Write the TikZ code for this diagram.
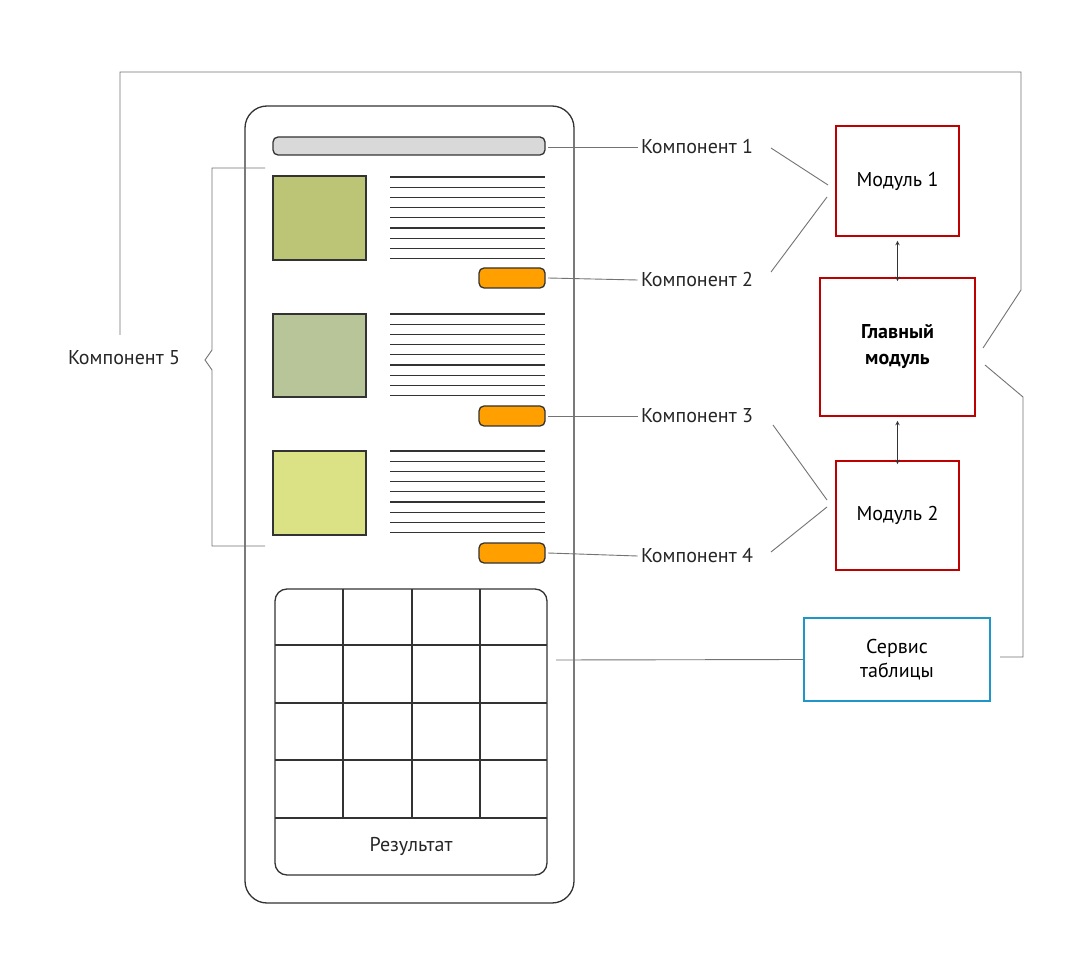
\documentclass[tikz,border=0pt]{standalone}
\usepackage{fontspec}
\setmainfont{PT Sans}
\begin{document}
\begin{tikzpicture}[x=1pt,y=-1pt,
 ol/.style={draw=black!80,line width=1.3pt},
 lead/.style={draw=black!55,line width=0.9pt},
 lbl/.style={font=\fontsize{20}{24}\selectfont,text=black!85},
 mod/.style={draw=red!75!black,line width=1.6pt,font=\fontsize{20}{24}\selectfont,align=center},
 txl/.style={draw=black!80,line width=1.2pt},
 btn/.style={ol,fill=orange!75!yellow,rounded corners=5pt}]
\useasboundingbox (0,0) rectangle (1080,976);
\fill[white] (0,0) rectangle (1080,976);
% phone
\draw[ol,rounded corners=22pt] (245,106) rectangle (574,903);
\draw[ol,fill=black!15,rounded corners=5pt] (273,137) rectangle (545,155);
\coordinate (bar) at (548,147);
\draw[ol,fill={rgb,255:red,188;green,196;blue,117}] (273,176) rectangle (366,260);
\draw[ol,fill={rgb,255:red,184;green,197;blue,153}] (273,314) rectangle (366,397);
\draw[ol,fill={rgb,255:red,219;green,226;blue,133}] (273,451) rectangle (366,535);
\foreach \y in {177,314,451}{
 \foreach \i in {0,...,8}{\draw[txl] (390,\y+\i*10.2) -- (545,\y+\i*10.2);}}
\draw[btn] (479,268) rectangle (545,288);
\draw[btn] (479,406) rectangle (545,426);
\draw[btn] (479,543) rectangle (545,563);
\coordinate (b1) at (548,278);\coordinate (b2) at (548,416);\coordinate (b3) at (548,553);
% grid
\draw[ol,rounded corners=12pt] (275,589) rectangle (547,875);
\foreach \x in {343,412,480}{\draw[ol] (\x,589) -- (\x,818);}
\foreach \y in {645,703,760,818}{\draw[ol] (275,\y) -- (547,\y);}
\node[lbl] (res) at (411,846) {Результат};
\coordinate (grid) at (556,660);
% labels
\node[lbl] (k1) at (697,147) {Компонент 1};
\node[lbl] (k2) at (697,280) {Компонент 2};
\node[lbl] (k3) at (697,416) {Компонент 3};
\node[lbl] (k4) at (697,556) {Компонент 4};
\node[lbl] (k5) at (124,358) {Компонент 5};
\draw[lead] (bar) -- (k1.west);
\draw[lead] (b1) -- (k2.west);
\draw[lead] (b2) -- (k3.west);
\draw[lead] (b3) -- (k4.west);
% brace
\draw[lead] (265,168) -- (212,168) -- (212,350) -- (205,360) -- (212,370) -- (212,546) -- (265,546);
% modules
\node[mod,minimum width=123pt,minimum height=110pt] (m1) at (897.5,181) {Модуль 1};
\node[mod,minimum width=155pt,minimum height=138pt,font=\fontsize{20}{26}\selectfont\bfseries] (mm) at (897.5,347) {Главный\\модуль};
\node[mod,minimum width=123pt,minimum height=109pt] (m2) at (897.5,515.5) {Модуль 2};
\node[mod,draw={rgb,255:red,30;green,150;blue,200},minimum width=186pt,minimum height=83pt] (sv) at (897,659.5) {Сервис\\таблицы};
\draw[lead] (771,148) -- (828,185);
\draw[lead] (771,272) -- (827,197);
\draw[lead] (773,425) -- (827,500);
\draw[lead] (771,552) -- (827,507);
\draw[black!80,line width=1pt,<->,>=stealth] (m1.south) ++(0,4) -- ([yshift=-4pt]mm.north);
\draw[black!80,line width=1pt,<->,>=stealth] (mm.south) ++(0,4) -- ([yshift=-4pt]m2.north);
\draw[lead] (grid) -- (sv.west);
\coordinate (p1) at (120,335);
\draw[lead] (p1) -- (120,72) -- (1021,72) -- (1021,290) -- (983,348);
\draw[lead] (985,365) -- (1023,397) -- (1023,657) -- (1000,657);
\end{tikzpicture}
\end{document}
